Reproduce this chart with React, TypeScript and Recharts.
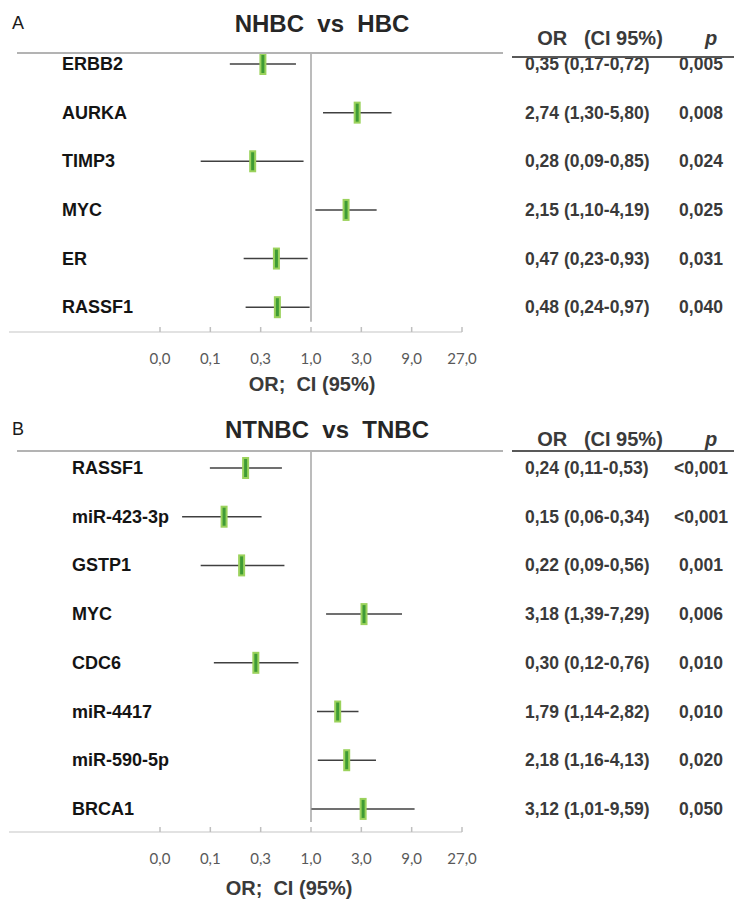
import { ScatterChart, Scatter, XAxis, YAxis, ErrorBar, ReferenceLine } from "recharts";

// x axis (log scale, base 3 steps)
const xTicks = [1 / 27, 1 / 9, 1 / 3, 1, 3, 9, 27];
const xTickLabels = ["0,0", "0,1", "0,3", "1,0", "3,0", "9,0", "27,0"];

// panel A: NHBC vs HBC
const genesA = ["ERBB2", "AURKA", "TIMP3", "MYC", "ER", "RASSF1"];
const orA = [0.35, 2.74, 0.28, 2.15, 0.47, 0.48];
const loA = [0.17, 1.3, 0.09, 1.1, 0.23, 0.24];
const hiA = [0.72, 5.8, 0.85, 4.19, 0.93, 0.97];
const pA = ["0,005", "0,008", "0,024", "0,025", "0,031", "0,040"];

// panel B: NTNBC vs TNBC
const genesB = ["RASSF1", "miR-423-3p", "GSTP1", "MYC", "CDC6", "miR-4417", "miR-590-5p", "BRCA1"];
const orB = [0.24, 0.15, 0.22, 3.18, 0.3, 1.79, 2.18, 3.12];
const loB = [0.11, 0.06, 0.09, 1.39, 0.12, 1.14, 1.16, 1.01];
const hiB = [0.53, 0.34, 0.56, 7.29, 0.76, 2.82, 4.13, 9.59];
const pB = ["<0,001", "<0,001", "0,001", "0,006", "0,010", "0,010", "0,020", "0,050"];

const ARIAL = "'Liberation Sans', Arial, sans-serif";
const fmt = (v: number) => v.toFixed(2).replace(".", ",");

function Marker(props: any) {
  const { cx, cy } = props;
  return (
    <g>
      <rect x={cx - 3.5} y={cy - 11} width={7} height={22} fill="#9bd25c" />
      <rect x={cx - 1.5} y={cy - 9} width={3} height={18} fill="#3f9b35" />
    </g>
  );
}

interface PanelProps {
  top: number;
  height: number;
  plotTop: number;
  axisY: number;
  rowDomain: [number, number];
  refEnd: number;
  letter: string;
  title: string;
  titleX: number;
  titleY: number;
  headerY: number;
  underlineY: number;
  axisTitleX: number;
  axisTitleY: number;
  labelX: number;
  genes: string[];
  or: number[];
  lo: number[];
  hi: number[];
  p: string[];
}

function Panel(pp: PanelProps) {
  const data = pp.genes.map((g, i) => ({
    row: i,
    or: pp.or[i],
    err: [pp.or[i] - pp.lo[i], pp.hi[i] - pp.or[i]],
  }));
  const rows = pp.genes.map((_, i) => i);

  const GeneTick = (props: any) => (
    <text
      x={pp.labelX}
      y={props.y}
      dominantBaseline="central"
      fontFamily={ARIAL}
      fontWeight="bold"
      fontSize={18}
      fill="#141414"
    >
      {pp.genes[props.payload.value]}
    </text>
  );

  const TableTick = (props: any) => {
    const i = props.payload.value;
    return (
      <g fontFamily={ARIAL} fontWeight="bold" fontSize={17.5} fill="#3a3a3a">
        <text x={525} y={props.y} dominantBaseline="central">
          {`${fmt(pp.or[i])} (${fmt(pp.lo[i])}-${fmt(pp.hi[i])})`}
        </text>
        <text x={701} y={props.y} dominantBaseline="central" textAnchor="middle">
          {pp.p[i]}
        </text>
      </g>
    );
  };

  const XTick = (props: any) => (
    <g>
      <line x1={props.x} x2={props.x} y1={props.y - 5} y2={props.y} stroke="#bfbfbf" strokeWidth={1.5} />
      <text
        x={props.x}
        y={props.y + 26}
        textAnchor="middle"
        dominantBaseline="central"
        fontFamily="Lato, sans-serif"
        fontSize={15}
        fill="#595959"
      >
        {xTickLabels[props.index]}
      </text>
    </g>
  );

  const center = (x: number, y: number): React.CSSProperties => ({
    position: "absolute",
    left: x,
    top: y,
    transform: "translate(-50%, -50%)",
    whiteSpace: "pre",
    lineHeight: 1,
    fontFamily: ARIAL,
  });

  return (
    <div style={{ position: "absolute", left: 0, top: pp.top, width: 734, height: pp.height }}>
      <ScatterChart
        width={734}
        height={pp.height}
        margin={{ top: pp.plotTop, right: 0, bottom: 0, left: 0 }}
      >
        <XAxis
          type="number"
          dataKey="or"
          scale="log"
          domain={[1 / 729, 27]}
          ticks={xTicks}
          allowDataOverflow
          height={pp.height - pp.axisY}
          tickSize={0}
          tickMargin={0}
          tickLine={false}
          axisLine={{ stroke: "#d9d9d9", strokeWidth: 1.5 }}
          tick={<XTick />}
          interval={0}
        />
        <YAxis
          yAxisId="left"
          type="number"
          dataKey="row"
          domain={pp.rowDomain}
          allowDataOverflow
          reversed
          ticks={rows}
          interval={0}
          width={9}
          axisLine={false}
          tickLine={false}
          tick={<GeneTick />}
        />
        <YAxis
          yAxisId="right"
          orientation="right"
          type="number"
          dataKey="row"
          domain={pp.rowDomain}
          allowDataOverflow
          reversed
          ticks={rows}
          interval={0}
          width={272}
          axisLine={false}
          tickLine={false}
          tick={<TableTick />}
        />
        <ReferenceLine
          yAxisId="left"
          segment={[
            { x: 1, y: pp.rowDomain[0] },
            { x: 1, y: pp.refEnd },
          ]}
          stroke="#a6a6a6"
          strokeWidth={1.5}
        />
        <Scatter
          yAxisId="left"
          data={data}
          shape={<Marker />}
          isAnimationActive={false}
        >
          <ErrorBar dataKey="err" direction="x" width={0} stroke="#404040" strokeWidth={1.5} isAnimationActive={false} />
        </Scatter>
        <Scatter yAxisId="right" data={data} shape={() => <g />} isAnimationActive={false} />
      </ScatterChart>

      <div style={{ ...center(18, pp.titleY - 1), fontSize: 18, color: "#1a1a1a" }}>{pp.letter}</div>
      <div style={{ ...center(pp.titleX, pp.titleY), fontSize: 24, fontWeight: "bold", color: "#262626" }}>
        {pp.title}
      </div>
      <div
        style={{
          position: "absolute",
          left: 17,
          top: pp.plotTop - 1,
          width: 486,
          height: 1.5,
          background: "#b3b3b3",
        }}
      />
      <div style={{ ...center(600, pp.headerY), fontSize: 20, fontWeight: "bold", color: "#3a3a3a" }}>
        {"OR   (CI 95%)"}
      </div>
      <div
        style={{
          ...center(711, pp.headerY),
          fontSize: 20,
          fontWeight: "bold",
          fontStyle: "italic",
          color: "#3a3a3a",
        }}
      >
        p
      </div>
      <div
        style={{
          position: "absolute",
          left: 512,
          top: pp.underlineY - 1,
          width: 222,
          height: 2,
          background: "#595959",
        }}
      />
      <div style={{ ...center(pp.axisTitleX, pp.axisTitleY), fontSize: 20, fontWeight: "bold", color: "#3a3a3a" }}>
        {"OR;  CI (95%)"}
      </div>
    </div>
  );
}

export default function App() {
  return (
    <div style={{ position: "absolute", left: 0, top: 0, width: 734, height: 899, background: "#fff" }}>
      <Panel
        top={0}
        height={410}
        plotTop={53}
        axisY={332}
        rowDomain={[-0.226, 5.51]}
        refEnd={5.3}
        letter="A"
        title="NHBC  vs  HBC"
        titleX={322}
        titleY={24}
        headerY={38}
        underlineY={57}
        axisTitleX={312}
        axisTitleY={384}
        labelX={62}
        genes={genesA}
        or={orA}
        lo={loA}
        hi={hiA}
        p={pA}
      />
      <Panel
        top={410}
        height={489}
        plotTop={41}
        axisY={422}
        rowDomain={[-0.349, 7.474]}
        refEnd={7.27}
        letter="B"
        title="NTNBC  vs  TNBC"
        titleX={327}
        titleY={20}
        headerY={29}
        underlineY={41}
        axisTitleX={289}
        axisTitleY={478}
        labelX={72}
        genes={genesB}
        or={orB}
        lo={loB}
        hi={hiB}
        p={pB}
      />
    </div>
  );
}
